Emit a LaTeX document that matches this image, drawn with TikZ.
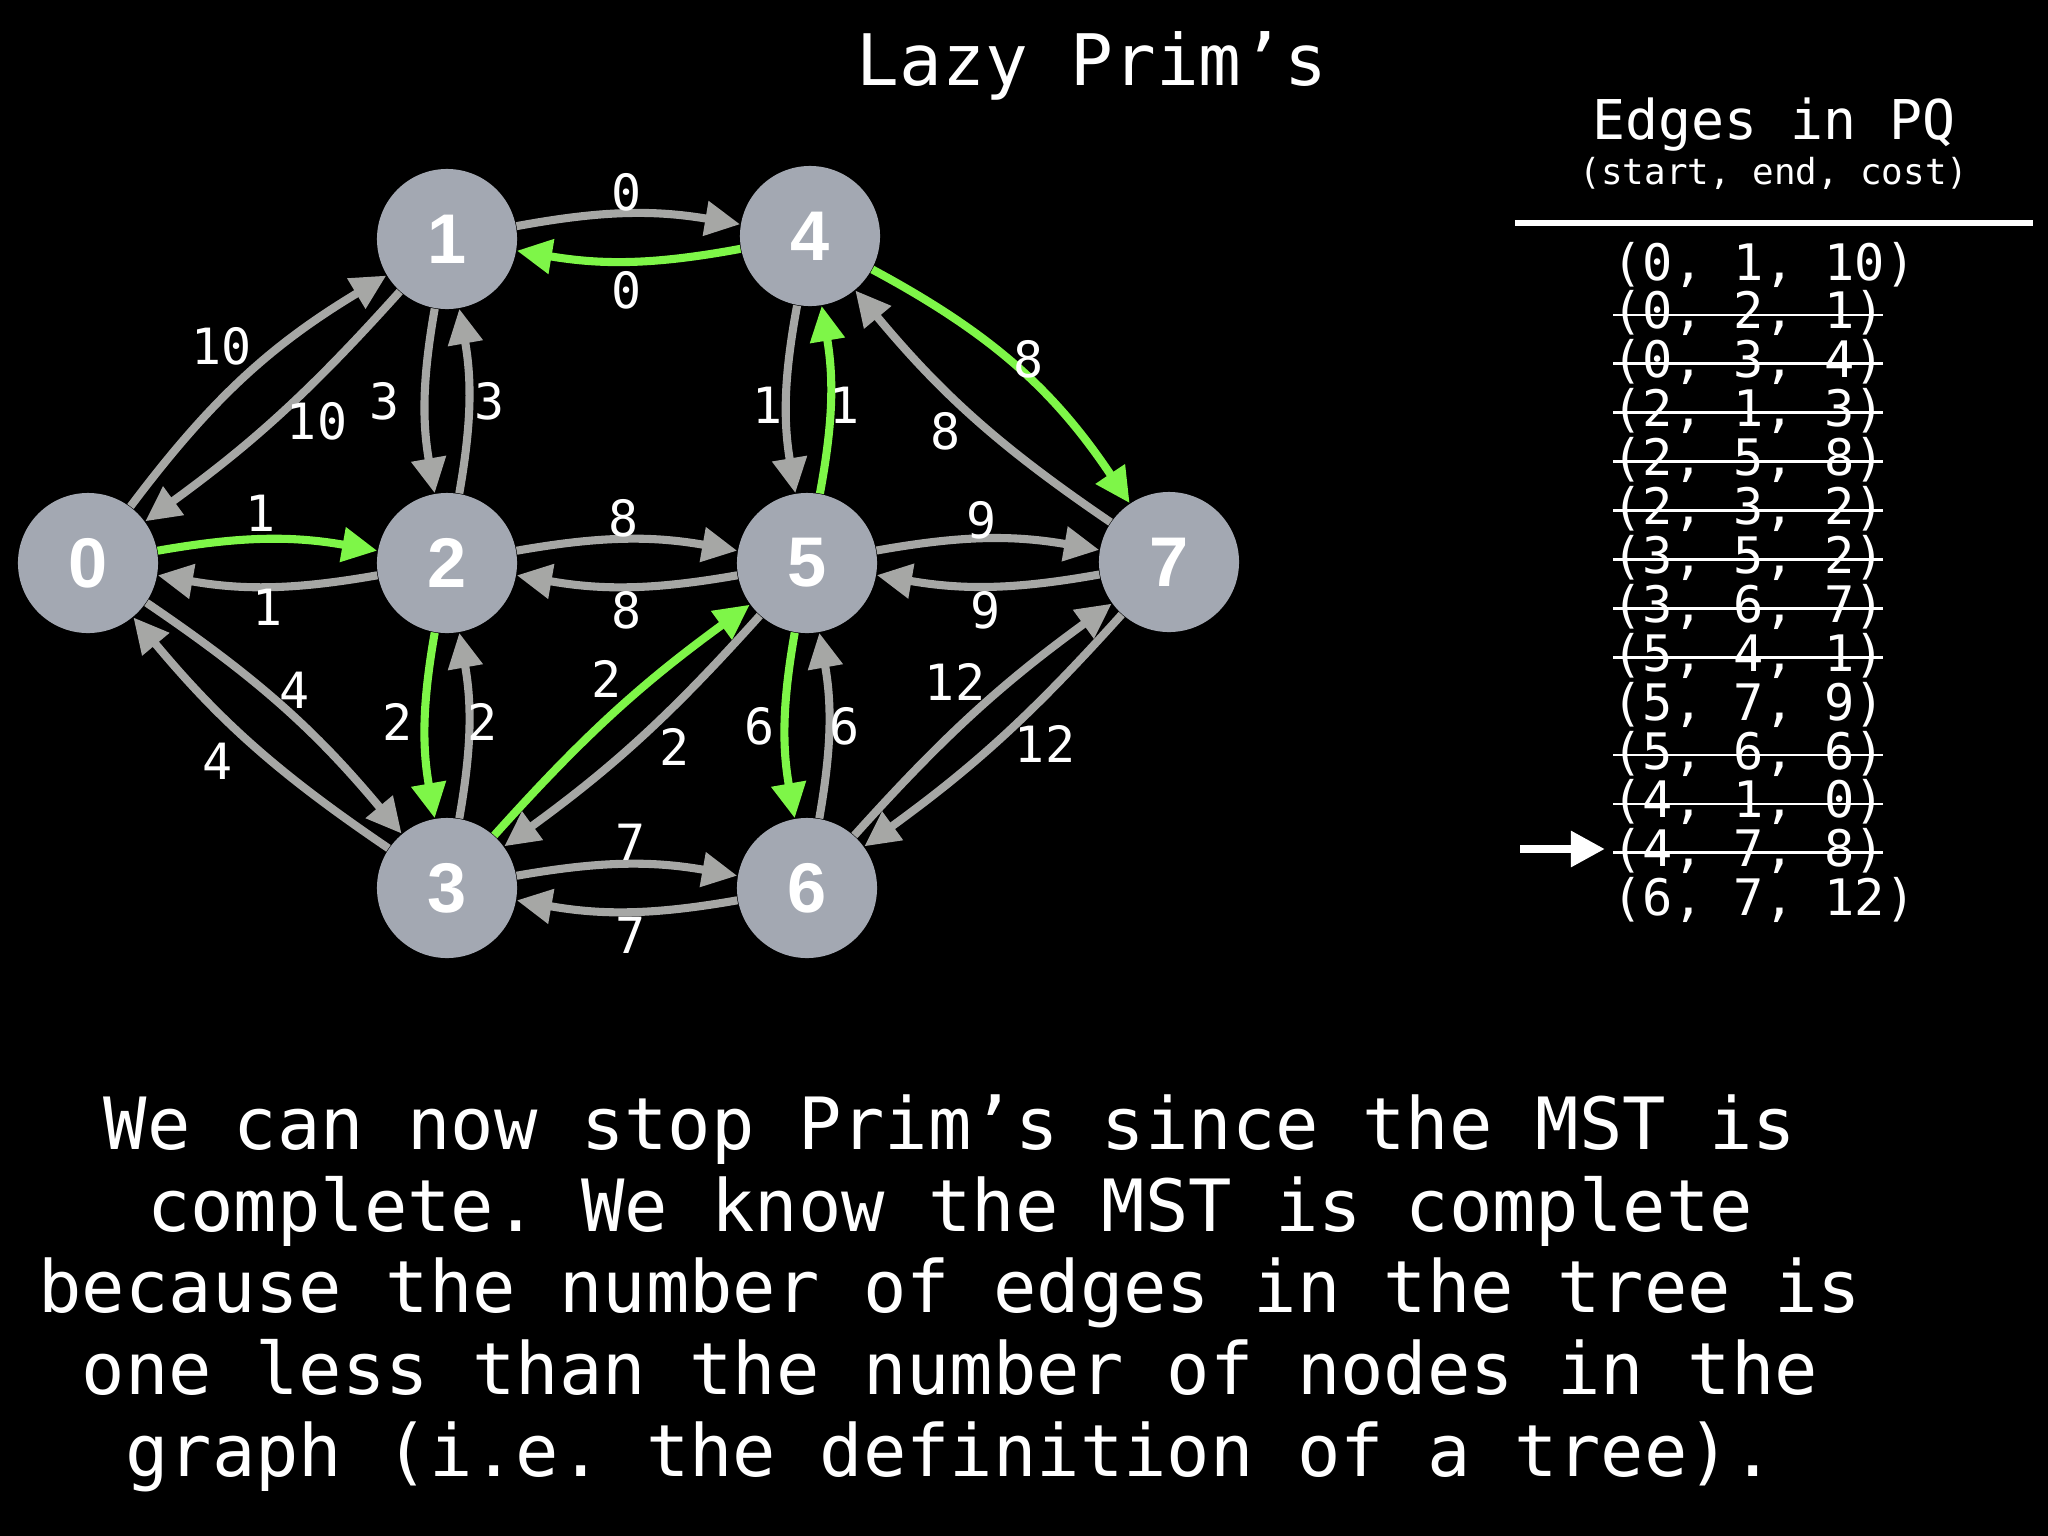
\documentclass[tikz,border=0pt]{standalone}
\usepackage{fontspec}
\setmainfont{DejaVu Sans Mono}
\newfontfamily\vtxfont{Liberation Sans}
\usetikzlibrary{arrows.meta}
\definecolor{nodegray}{RGB}{163,168,178}
\definecolor{edgegray}{RGB}{166,167,165}
\definecolor{mstgreen}{RGB}{126,246,72}
\frenchspacing
\begin{document}
\begin{tikzpicture}[x=0.01cm,y=-0.01cm,
  vtx/.style={circle, fill=nodegray, minimum size=1.4cm, inner sep=0pt, text=white,
    font=\vtxfont\bfseries\fontsize{20}{24}\selectfont},
  ge/.style={draw=edgegray, line width=2.3pt, -{Triangle[length=10pt,width=9.5pt]}},
  gn/.style={draw=mstgreen, line width=2.3pt, -{Triangle[length=10pt,width=9.5pt]}},
  wl/.style={text=white, inner sep=0pt, font=\fontsize{14.2}{17}\selectfont},
  rowtxt/.style={text=white, inner sep=0pt, anchor=base west, font=\fontsize{14.3}{17}\selectfont},
  strike/.style={draw=white, line width=0.8pt},
]
\fill[black] (0,0) rectangle (2048,1536);
\useasboundingbox (0,0) rectangle (2048,1536);

% title
\node[text=white, inner sep=0pt, anchor=base, font=\fontsize{20.2}{24}\selectfont] (title) at (1092,85) {Lazy Prim’s};

% vertices
\node[vtx] (n0) at (88,563) {0};
\node[vtx] (n1) at (447,239) {1};
\node[vtx] (n4) at (810,236) {4};
\node[vtx] (n2) at (447,563) {2};
\node[vtx] (n5) at (807,563) {5};
\node[vtx] (n7) at (1169,562) {7};
\node[vtx] (n3) at (447,888) {3};
\node[vtx] (n6) at (807,888) {6};

% edges
\draw[ge] (n0) to[bend left=11] (n1);
\draw[ge] (n1) to[bend left=6] (n0);
\draw[gn] (n0) to[bend left=10] (n2);
\draw[ge] (n2) to[bend left=10] (n0);
\draw[ge] (n0) to[bend left=8] (n3);
\draw[ge] (n3) to[bend left=8] (n0);
\draw[ge] (n1) to[bend right=10] (n2);
\draw[ge] (n2) to[bend right=10] (n1);
\draw[ge] (n1) to[bend left=10] (n4);
\draw[gn] (n4) to[bend left=10] (n1);
\draw[ge] (n2) to[bend left=10] (n5);
\draw[ge] (n5) to[bend left=10] (n2);
\draw[gn] (n2) to[bend right=10] (n3);
\draw[ge] (n3) to[bend right=10] (n2);
\draw[gn] (n3) to[bend left=6] (n5);
\draw[ge] (n5) to[bend left=6] (n3);
\draw[ge] (n4) to[bend right=10] (n5);
\draw[gn] (n5) to[bend right=10] (n4);
\draw[gn] (n4) to[bend left=14] (n7);
\draw[ge] (n7) to[bend left=8] (n4);
\draw[ge] (n5) to[bend left=10] (n7);
\draw[ge] (n7) to[bend left=10] (n5);
\draw[gn] (n5) to[bend right=10] (n6);
\draw[ge] (n6) to[bend right=10] (n5);
\draw[ge] (n3) to[bend left=10] (n6);
\draw[ge] (n6) to[bend left=10] (n3);
\draw[ge] (n6) to[bend left=6] (n7);
\draw[ge] (n7) to[bend left=6] (n6);

% edge labels
\node[wl] (l01) at (222,346) {10};
\node[wl] (l10) at (317,421) {10};
\node[wl] (l02) at (261,513) {1};
\node[wl] (l20) at (268,607) {1};
\node[wl] (l03) at (295,690) {4};
\node[wl] (l30) at (218,761) {4};
\node[wl] (l12) at (385,401) {3};
\node[wl] (l21) at (490,401) {3};
\node[wl] (l14) at (627,192) {0};
\node[wl] (l41) at (627,290) {0};
\node[wl] (l25) at (624,518) {8};
\node[wl] (l52) at (627,610) {8};
\node[wl] (l23) at (398,722) {2};
\node[wl] (l32) at (483,722) {2};
\node[wl] (l35) at (607,679) {2};
\node[wl] (l53) at (675,747) {2};
\node[wl] (l45) at (768,405) {1};
\node[wl] (l54) at (845,405) {1};
\node[wl] (l47) at (1029,359) {8};
\node[wl] (l74) at (946,431) {8};
\node[wl] (l57) at (982,520) {9};
\node[wl] (l75) at (986,610) {9};
\node[wl] (l56) at (760,726) {6};
\node[wl] (l65) at (845,726) {6};
\node[wl] (l36) at (631,842) {7};
\node[wl] (l63) at (631,935) {7};
\node[wl] (l67) at (955,682) {12};
\node[wl] (l76) at (1045,744) {12};

% PQ table
\node[text=white, inner sep=0pt, anchor=base, font=\fontsize{15.6}{18}\selectfont] (pqh) at (1774,139) {Edges in PQ};
\node[text=white, inner sep=0pt, anchor=base, font=\fontsize{10.2}{12}\selectfont] (pqs) at (1774,184) {(start, end, cost)};
\coordinate (ruleL) at (1515,223);
\coordinate (ruleR) at (2033,223);
\draw[white, line width=1.6pt] (ruleL) -- (ruleR);

\foreach \t [count=\i from 0] in {{(0, 1, 10)},{(0, 2, 1)},{(0, 3, 4)},{(2, 1, 3)},{(2, 5, 8)},{(2, 3, 2)},{(3, 5, 2)},{(3, 6, 7)},{(5, 4, 1)},{(5, 7, 9)},{(5, 6, 6)},{(4, 1, 0)},{(4, 7, 8)},{(6, 7, 12)}}
  \node[rowtxt] (r\i) at (1612,{280+\i*48.9}) {\t};

\foreach \i in {1,2,3,4,5,6,7,8,10,11,12}
  \draw[strike] (1613,{280+\i*48.9-14}) -- (1883,{280+\i*48.9-14});

\coordinate (arrS) at (1520,849);
\coordinate (arrE) at (1605,849);
\draw[white, line width=2.5pt, -{Triangle[length=0.34cm,width=0.34cm]}] (arrS) -- (arrE);

% explanation
\begin{scope}[every node/.style={text=white, inner sep=0pt, anchor=base, font=\fontsize{20.5}{24}\selectfont}]
\node (p1) at (950,1149) {We can now stop Prim’s since the MST is};
\node (p2) at (950,1231) {complete. We know the MST is complete};
\node (p3) at (950,1312) {because the number of edges in the tree is};
\node (p4) at (950,1394) {one less than the number of nodes in the};
\node (p5) at (950,1476) {graph (i.e. the definition of a tree).};
\end{scope}
\end{tikzpicture}
\end{document}
